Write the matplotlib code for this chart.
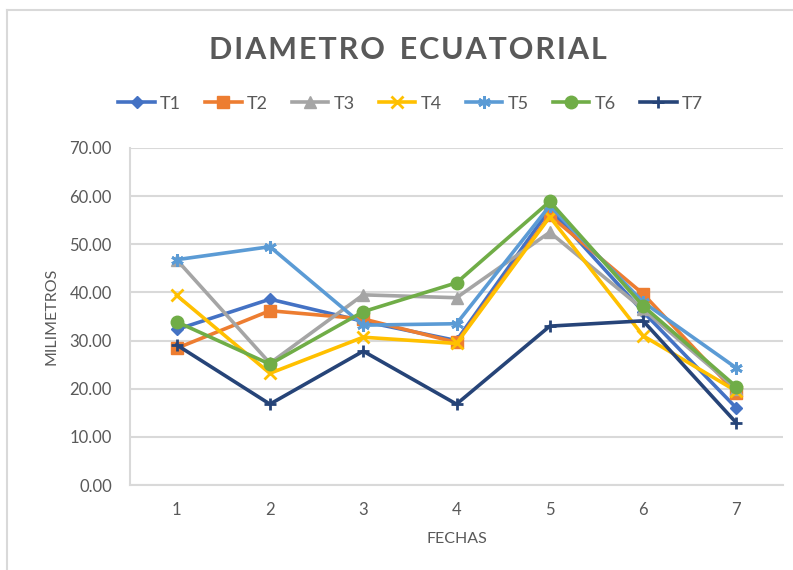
import matplotlib.pyplot as plt
from matplotlib.lines import Line2D

plt.rcParams["font.family"] = ["Lato", "DejaVu Sans"]

fechas = [1, 2, 3, 4, 5, 6, 7]
t1 = [32.3, 38.6, 34.0, 30.0, 57.3, 36.0, 16.0]
t2 = [28.4, 36.2, 34.5, 29.6, 56.0, 39.7, 19.1]
t3 = [46.8, 25.3, 39.5, 38.9, 52.5, 36.5, 20.0]
t4 = [39.4, 23.2, 30.7, 29.4, 55.7, 31.0, 19.5]
t5 = [46.8, 49.5, 33.2, 33.5, 58.0, 38.0, 24.3]
t6 = [33.9, 25.1, 36.0, 42.0, 58.9, 37.2, 20.4]
t7 = [29.1, 16.8, 27.8, 16.8, 33.0, 34.1, 12.9]

series = ["T1", "T2", "T3", "T4", "T5", "T6", "T7"]
valores = [t1, t2, t3, t4, t5, t6, t7]
colores = ["#4472C4", "#ED7D31", "#A5A5A5", "#FFC000", "#5B9BD5", "#70AD47", "#264478"]
marcas = ["D", "s", "^", "x", (6, 2, 0), "o", "+"]
tamanos = [6, 8, 8, 8, 9, 9, 9]

fig = plt.figure(figsize=(7.93, 5.70), dpi=100)
ax = fig.add_axes([130 / 793, 1 - 485 / 570, 653 / 793, 337 / 570])

gris = "#595959"
for nombre, vals, c, m, s in zip(series, valores, colores, marcas, tamanos):
    ax.plot(fechas, vals, color=c, lw=2.6, marker=m, markersize=s,
            markeredgewidth=2 if m in ("x", "+", (6, 2, 0)) else 1,
            markeredgecolor=c, markerfacecolor=c, label=nombre, zorder=3)

ax.set_xlim(0.5, 7.5)
ax.set_ylim(0, 70)
ax.set_xticks(fechas)
ax.set_yticks(range(0, 71, 10))
ax.set_yticklabels([f"{v:.2f}" for v in range(0, 71, 10)])
ax.tick_params(length=0, labelsize=12, colors=gris, pad=13)
ax.tick_params(axis="x", pad=12)
ax.grid(axis="y", color="#D9D9D9", lw=1.5)
ax.set_axisbelow(True)
for sp in ["top", "right"]:
    ax.spines[sp].set_visible(False)
ax.spines["left"].set_color("#D9D9D9")
ax.spines["bottom"].set_color("#D9D9D9")
ax.spines["left"].set_linewidth(1.5)
ax.spines["bottom"].set_linewidth(1.5)

ax.set_xlabel("FECHAS", fontsize=11.5, color=gris, labelpad=10)
ax.set_ylabel("MILIMETROS", fontsize=11.5, color=gris, labelpad=8)

titulo = "\u200a".join("DIAMETRO") + "  " + "\u200a".join("ECUATORIAL")
fig.text(0.514, 0.912, titulo, ha="center", va="center",
         fontsize=22, fontweight="bold", color=gris)

fig.legend(loc="center", bbox_to_anchor=(0.518, 0.818), ncol=7, frameon=False,
           fontsize=13, handlelength=2.0, handletextpad=0.3, columnspacing=1.35,
           labelcolor=gris)

# marco del grafico
fig.add_artist(Line2D([7 / 793, 7 / 793], [0, 1 - 10 / 570], color="#D9D9D9", lw=1.5))
fig.add_artist(Line2D([7 / 793, 1], [1 - 10 / 570, 1 - 10 / 570], color="#D9D9D9", lw=1.5))

fig.savefig("out.png", dpi=100)
